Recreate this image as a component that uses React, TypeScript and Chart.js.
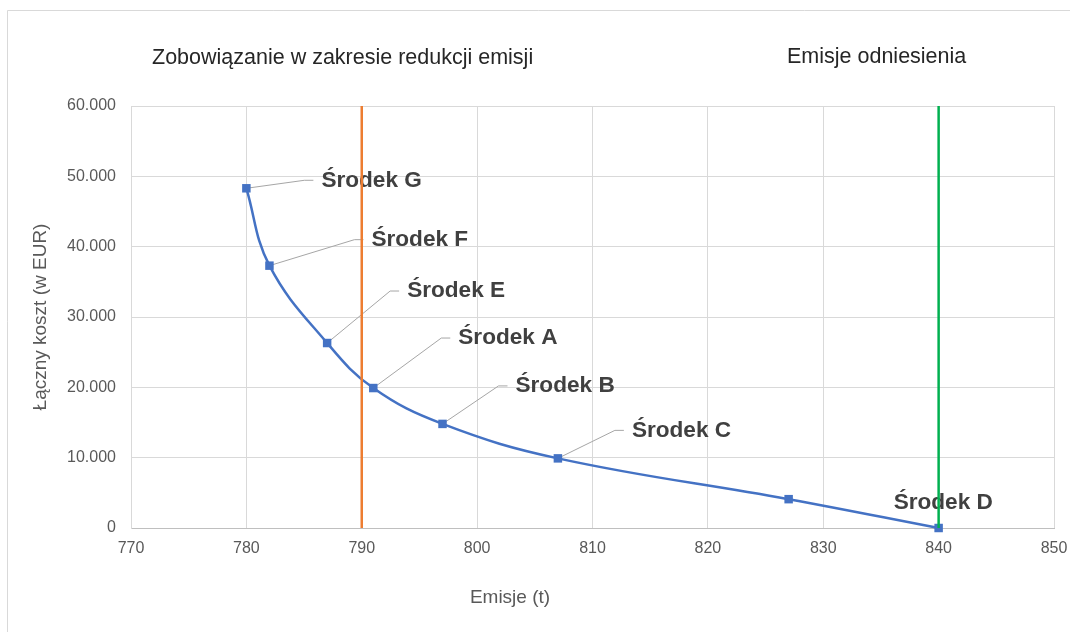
import React, { useEffect, useRef } from 'react';
import { Chart, registerables } from 'chart.js';

Chart.register(...registerables);

// ---- data ----
const emissions = [780, 782, 787, 791, 797, 807, 827, 840];
const costs = [48300, 37300, 26300, 19900, 14800, 9900, 4100, 0];
const pointLabels = ['Środek G', 'Środek F', 'Środek E', 'Środek A', 'Środek B', 'Środek C', '', 'Środek D'];
const commitmentEmission = 790;
const referenceEmission = 840;
const commitmentTitle = 'Zobowiązanie w zakresie redukcji emisji';
const referenceTitle = 'Emisje odniesienia';
const xAxisTitle = 'Emisje (t)';
const yAxisTitle = 'Łączny koszt (w EUR)';
const xMin = 770;
const xMax = 850;
const xStep = 10;
const yMin = 0;
const yMax = 60000;
const yStep = 10000;

// ---- label placement (styling) ----
const labelOffsets: [number, number][] = [
  [75, -8],
  [102, -26],
  [80, -52],
  [85, -50],
  [73, -38],
  [74, -28],
  [0, 0],
  [-45, -25],
];
const labelLeaders = [true, true, true, true, true, true, false, false];

const FONT = '"Liberation Sans", Arial, Helvetica, sans-serif';

const formatThousands = (v: number) =>
  String(Math.round(v)).replace(/\B(?=(\d{3})+(?!\d))/g, '.');

const annotPlugin = {
  id: 'annot',
  beforeDraw(chart: any) {
    const ctx = chart.ctx as CanvasRenderingContext2D;
    ctx.save();
    ctx.fillStyle = '#ffffff';
    ctx.fillRect(0, 0, chart.width, chart.height);
    ctx.strokeStyle = '#D9D9D9';
    ctx.lineWidth = 1;
    ctx.beginPath();
    ctx.moveTo(7.5, chart.height);
    ctx.lineTo(7.5, 10.5);
    ctx.lineTo(chart.width, 10.5);
    ctx.stroke();

    ctx.fillStyle = '#262626';
    ctx.font = `21.5px ${FONT}`;
    ctx.textBaseline = 'middle';
    ctx.textAlign = 'left';
    ctx.fillText(commitmentTitle, 152, 58);
    ctx.fillText(referenceTitle, 787, 57);

    ctx.fillStyle = '#595959';
    ctx.font = `19px ${FONT}`;
    ctx.textAlign = 'center';
    ctx.fillText(xAxisTitle, 510, 598);
    ctx.restore();
  },
  beforeDatasetsDraw(chart: any) {
    const ctx = chart.ctx as CanvasRenderingContext2D;
    const xs = chart.scales.x;
    const ys = chart.scales.y;
    ctx.save();
    ctx.font = `bold 22.6px ${FONT}`;
    ctx.textBaseline = 'middle';
    ctx.textAlign = 'left';
    for (let i = 0; i < emissions.length; i++) {
      const label = pointLabels[i];
      if (!label) continue;
      const px = xs.getPixelForValue(emissions[i]);
      const py = ys.getPixelForValue(costs[i]);
      const [dx, dy] = labelOffsets[i];
      const tx = px + dx;
      const ty = py + dy;
      if (labelLeaders[i]) {
        ctx.strokeStyle = '#A6A6A6';
        ctx.lineWidth = 1;
        ctx.beginPath();
        ctx.moveTo(px, py);
        ctx.lineTo(tx - 17, ty);
        ctx.lineTo(tx - 8, ty);
        ctx.stroke();
      }
      ctx.fillStyle = '#404040';
      ctx.fillText(label, tx, ty);
    }
    ctx.restore();
  },
};

export default function App() {
  const canvasRef = useRef<HTMLCanvasElement | null>(null);

  useEffect(() => {
    if (!canvasRef.current) return;
    Chart.defaults.font.family = FONT;
    const chart = new Chart(canvasRef.current, {
      type: 'scatter',
      data: {
        datasets: [
          {
            label: commitmentTitle,
            data: [
              { x: commitmentEmission, y: yMin },
              { x: commitmentEmission, y: yMax },
            ],
            showLine: true,
            borderColor: '#ED7D31',
            borderWidth: 2.5,
            pointRadius: 0,
            tension: 0,
          },
          {
            label: referenceTitle,
            data: [
              { x: referenceEmission, y: yMin },
              { x: referenceEmission, y: yMax },
            ],
            showLine: true,
            borderColor: '#00B050',
            borderWidth: 2.5,
            pointRadius: 0,
            tension: 0,
          },
          {
            label: 'Łączny koszt',
            data: emissions.map((e, i) => ({ x: e, y: costs[i] })),
            showLine: true,
            borderColor: '#4472C4',
            backgroundColor: '#4472C4',
            borderWidth: 2.5,
            pointStyle: 'rect',
            pointRadius: 6,
            pointBorderWidth: 0,
            tension: 0.4,
            clip: false as any,
          },
        ],
      },
      options: {
        responsive: false,
        animation: false,
        events: [],
        layout: { padding: { left: 0, right: 16, top: 106, bottom: 0 } },
        plugins: {
          legend: { display: false },
          tooltip: { enabled: false },
          title: { display: false },
        },
        scales: {
          x: {
            type: 'linear',
            min: xMin,
            max: xMax,
            ticks: {
              stepSize: xStep,
              color: '#595959',
              font: { size: 16, family: FONT },
              padding: 11,
            },
            grid: { color: '#D9D9D9', lineWidth: 1, drawTicks: false },
            border: { color: '#BFBFBF', width: 1 },
            afterFit: (scale: any) => {
              scale.height = 104;
              scale.paddingLeft = 0;
              scale.paddingRight = 0;
            },
          },
          y: {
            type: 'linear',
            min: yMin,
            max: yMax,
            ticks: {
              stepSize: yStep,
              color: '#595959',
              font: { size: 16, family: FONT },
              padding: 15,
              callback: (v: any) => formatThousands(Number(v)),
            },
            grid: { color: '#D9D9D9', lineWidth: 1, drawTicks: false },
            border: { color: '#D9D9D9', width: 1 },
            title: {
              display: true,
              text: yAxisTitle,
              color: '#595959',
              font: { size: 19, family: FONT },
              padding: { top: 29, bottom: 0 },
            },
            afterFit: (scale: any) => {
              scale.width = 131;
            },
          },
        },
      },
      plugins: [annotPlugin],
    });
    return () => chart.destroy();
  }, []);

  return (
    <div style={{ position: 'absolute', left: 0, top: 0, width: 1070, height: 632, background: '#fff' }}>
      <canvas ref={canvasRef} width={1070} height={632} style={{ display: 'block' }} />
    </div>
  );
}
